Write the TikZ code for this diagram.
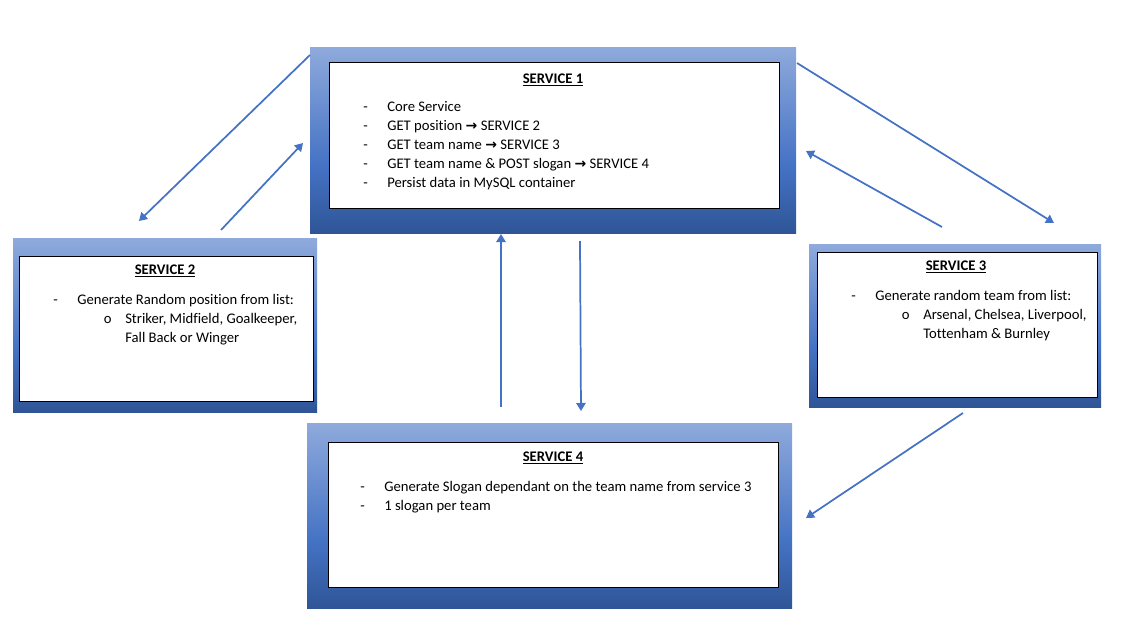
\documentclass[tikz,border=0pt]{standalone}
\usepackage{fontspec}
\setmainfont{Carlito}[Ligatures=NoCommon]
\newfontfamily\arrowfont{DejaVu Sans}
\usetikzlibrary{arrows.meta}
\definecolor{svclight}{HTML}{8FAADC}
\definecolor{svcmid}{HTML}{4472C4}
\definecolor{svcdark}{HTML}{2F5597}
\pgfdeclareverticalshading{svcshade}{100bp}{color(0bp)=(svcdark); color(25bp)=(svcdark); color(43bp)=(svcmid); color(75bp)=(svclight); color(100bp)=(svclight)}
\newcommand{\harrow}{{\arrowfont\bfseries\fontsize{10.5}{10.5}\selectfont →}}
\newcommand{\svctitle}[1]{\textbf{\underline{#1}}}
\newcommand{\dashitem}[1]{\makebox[18pt][l]{-}#1}
\newcommand{\circitem}[1]{\hspace*{37.9pt}\makebox[16.1pt][l]{o}#1}
\newcommand{\contitem}[1]{\hspace*{54pt}#1}

\begin{document}
\begin{tikzpicture}[x=0.75pt,y=-0.75pt,
  font=\fontsize{11}{14.4}\selectfont,
  svcouter/.style={shading=svcshade,draw=none,inner sep=0pt},
  svcinner/.style={draw=black,line width=0.75pt,fill=white,inner sep=0pt},
  svchead/.style={anchor=base,inner sep=0pt},
  svctext/.style={anchor=base west,inner sep=0pt},
  flow/.style={svcmid,line width=1.3pt,-{Triangle[width=7pt,length=6pt]}}]
\useasboundingbox (0,0) rectangle (1122,628);
%%
\node (s1_back) at (553,140) [svcouter,minimum width=364.5pt,minimum height=139.5pt] {};
\node (s1_box) at (554,135) [svcinner,minimum width=337.5pt,minimum height=109.5pt] {};
\node (s1_head) at (553,83) [svchead] {\svctitle{SERVICE 1}};
\node (s1_list) at (363,111) [svctext] {\begin{tabular}[t]{@{}l@{}}
  \dashitem{Core Service}\\
  \dashitem{GET position \harrow{} SERVICE 2}\\
  \dashitem{GET team name \harrow{} SERVICE 3}\\
  \dashitem{GET team name \& POST slogan \harrow{} SERVICE 4}\\
  \dashitem{Persist data in MySQL container}
\end{tabular}};
%%
\node (s2_back) at (165,325) [svcouter,minimum width=228pt,minimum height=130.5pt] {};
\node (s2_box) at (166,328.5) [svcinner,minimum width=220.5pt,minimum height=108.75pt] {};
\node (s2_head) at (165,274) [svchead] {\svctitle{SERVICE 2}};
\node (s2_list) at (53,304) [svctext] {\begin{tabular}[t]{@{}l@{}}
  \dashitem{Generate Random position from list:}\\
  \circitem{Striker, Midfield, Goalkeeper,}\\
  \contitem{Fall Back or Winger}
\end{tabular}};
%%
\node (s3_back) at (955,325.5) [svcouter,minimum width=219pt,minimum height=122.25pt] {};
\node (s3_box) at (957,324.5) [svcinner,minimum width=210pt,minimum height=108.75pt] {};
\node (s3_head) at (956,270) [svchead] {\svctitle{SERVICE 3}};
\node (s3_list) at (851,300) [svctext] {\begin{tabular}[t]{@{}l@{}}
  \dashitem{Generate random team from list:}\\
  \circitem{Arsenal, Chelsea, Liverpool,}\\
  \contitem{Tottenham \& Burnley}
\end{tabular}};
%%
\node (s4_back) at (549.5,515.5) [svcouter,minimum width=363.75pt,minimum height=138.75pt] {};
\node (s4_box) at (553,514.5) [svcinner,minimum width=337.5pt,minimum height=108.75pt] {};
\node (s4_head) at (553,461) [svchead] {\svctitle{SERVICE 4}};
\node (s4_list) at (360,491) [svctext] {\begin{tabular}[t]{@{}l@{}}
  \dashitem{Generate Slogan dependant on the team name from service 3}\\
  \dashitem{1 slogan per team}
\end{tabular}};
%%
\coordinate (s1_to_s2_a) at (310,55);
\coordinate (s1_to_s2_b) at (139,221);
\coordinate (s2_to_s1_a) at (221,230);
\coordinate (s2_to_s1_b) at (303,143);
\coordinate (s1_to_s3_a) at (797,63);
\coordinate (s1_to_s3_b) at (1054,223);
\coordinate (s3_to_s1_a) at (942,227);
\coordinate (s3_to_s1_b) at (806,151);
\coordinate (s4_to_s1_a) at (501,407);
\coordinate (s4_to_s1_b) at (501,234);
\coordinate (s1_to_s4_a) at (580,241);
\coordinate (s1_to_s4_b) at (581,411);
\coordinate (s3_to_s4_a) at (963,413);
\coordinate (s3_to_s4_b) at (806,518);
\draw [flow] (s1_to_s2_a) -- (s1_to_s2_b);
\draw [flow] (s2_to_s1_a) -- (s2_to_s1_b);
\draw [flow] (s1_to_s3_a) -- (s1_to_s3_b);
\draw [flow] (s3_to_s1_a) -- (s3_to_s1_b);
\draw [flow] (s4_to_s1_a) -- (s4_to_s1_b);
\draw [flow] (s1_to_s4_a) -- (s1_to_s4_b);
\draw [flow] (s3_to_s4_a) -- (s3_to_s4_b);
%
\end{tikzpicture}
\end{document}
